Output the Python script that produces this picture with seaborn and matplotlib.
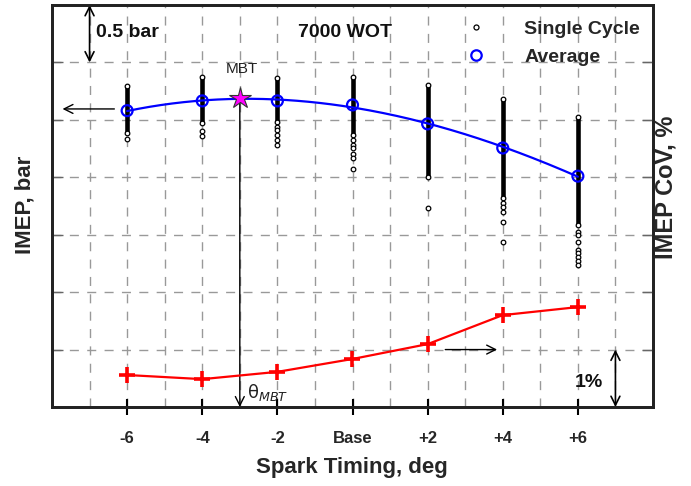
import numpy as np
import matplotlib
matplotlib.use("Agg")
import matplotlib.pyplot as plt
from matplotlib.lines import Line2D
from matplotlib.ticker import FixedLocator, NullFormatter
import seaborn as sns

# Spark timing sweep (deg relative to base calibration)
timing = [-6, -4, -2, 0, 2, 4, 6]
timing_labels = ["-6", "-4", "-2", "Base", "+2", "+4", "+6"]

# Average IMEP per timing point (bar)
imep_avg = [12.58, 12.665, 12.665, 12.63, 12.465, 12.255, 12.01]

# Single-cycle IMEP spread: continuous band of cycles per timing point (bar)
cycle_max = [12.795, 12.873, 12.864, 12.873, 12.804, 12.682, 12.525]
cycle_band_min = [12.386, 12.473, 12.481, 12.368, 12.003, 11.820, 11.585]

# Isolated low single cycles below each band (bar)
cycle_outliers = [
    [12.333],
    [12.403, 12.360],
    [12.438, 12.412, 12.368, 12.325, 12.281],
    [12.325, 12.281, 12.255, 12.203, 12.168, 12.072],
    [11.733],
    [11.776, 11.741, 11.698, 11.611, 11.437],
    [11.524, 11.498, 11.437, 11.367, 11.341, 11.306, 11.271, 11.236],
]

# Coefficient of variation of IMEP (%)
imep_cov = [0.557, 0.485, 0.612, 0.836, 1.095, 1.60, 1.74]

# Maximum brake torque timing
mbt_timing = -3
mbt_imep = 12.69

sns.set_theme(style="white")
plt.rcParams["font.family"] = ["Liberation Sans", "DejaVu Sans"]

W, H = 691, 486
fig = plt.figure(figsize=(W / 100, H / 100), dpi=100)
ax = fig.add_axes([52 / W, 1 - 407 / H, 601 / W, 402 / H])
ax.set_facecolor("white")
ax.set_xlim(-8, 8)
ax.set_ylim(10.0, 13.5)

ax2 = ax.twinx()
ax2.set_ylim(0, 7)

# grid and ticks
ax.xaxis.set_major_locator(FixedLocator(timing))
ax.xaxis.set_minor_locator(FixedLocator([-7, -5, -3, -1, 1, 3, 5, 7]))
ax.set_xticklabels(timing_labels)
ax.yaxis.set_major_locator(FixedLocator(np.arange(10.5, 13.01, 0.5)))
ax.yaxis.set_major_formatter(NullFormatter())
ax2.yaxis.set_major_locator(FixedLocator(range(1, 7)))
ax2.yaxis.set_major_formatter(NullFormatter())

dash = (0, (6.5, 6.0))
ax.grid(which="both", axis="x", color="#999999", lw=1, ls=dash)
ax.grid(which="major", axis="y", color="#999999", lw=1, ls=dash)
ax2.grid(False)
ax.set_axisbelow(True)

ax.tick_params(axis="x", which="major", bottom=True, direction="inout",
               length=12, width=1.5, color="black", pad=11, labelsize=12)
ax.tick_params(axis="x", which="minor", bottom=False, length=0)
ax.tick_params(axis="y", left=True, direction="in", length=8, width=1,
               color="#666666")
ax2.tick_params(axis="y", right=True, direction="in", length=8, width=1,
                color="#666666")
for lab in ax.get_xticklabels():
    lab.set_fontweight("bold")

for a in (ax, ax2):
    for sp in a.spines.values():
        sp.set_color("#222222")
        sp.set_linewidth(2)

# single-cycle bands and isolated cycles
ax.vlines(timing, cycle_band_min, cycle_max, colors="black", lw=3.3,
          capstyle="round", zorder=3)
sc_x, sc_y = [], []
for t, lo, hi, extra in zip(timing, cycle_band_min, cycle_max, cycle_outliers):
    sc_x += [t, t] + [t] * len(extra)
    sc_y += [lo, hi] + extra
sns.scatterplot(x=sc_x, y=sc_y, ax=ax, marker="o", s=11, facecolor="white",
                edgecolor="black", linewidth=0.9, zorder=4, legend=False)

# smooth trend through the averages
coef = np.polyfit(timing, imep_avg, 3)
xs = np.linspace(timing[0], timing[-1], 200)
sns.lineplot(x=xs, y=np.polyval(coef, xs), ax=ax, color="blue", lw=1.6,
             sort=False, estimator=None, zorder=5)
sns.scatterplot(x=timing, y=imep_avg, ax=ax, marker="o", s=62, facecolor="none",
                edgecolor="blue", linewidth=1.6, zorder=6, legend=False)

# MBT marker and timing arrow
ax.annotate("", xy=(mbt_timing, 10.0), xytext=(mbt_timing, mbt_imep),
            arrowprops=dict(arrowstyle="->", lw=1, color="black",
                            shrinkA=0, shrinkB=0, mutation_scale=16), zorder=4)
ax.plot([mbt_timing], [mbt_imep], marker="*", ms=16, mfc="#ff00ff",
        mec="#333333", mew=0.8, ls="none", zorder=8)
ax.text(mbt_timing + 0.05, 12.943, "MBT", fontsize=11, ha="center",
        va="center", color="#222222")
ax.text(-2.82, 10.13, r"$\mathrm{\theta}_{\mathit{MBT}}$", fontsize=13,
        ha="left", va="center", color="#222222")

# CoV on the secondary axis
sns.lineplot(x=timing, y=imep_cov, ax=ax2, color="red", lw=1.6, marker="+",
             markersize=11, markeredgewidth=2.6, markeredgecolor="red",
             sort=False, estimator=None, zorder=5)
ax2.set_ylabel("")
ax.set_ylabel("")
ax.set_xlabel("")

# scale annotations and axis pointers
ax.annotate("", xy=(-7, 13.5), xytext=(-7, 13.0),
            arrowprops=dict(arrowstyle="<->", lw=1.2, color="black",
                            shrinkA=0, shrinkB=0, mutation_scale=16))
ax.text(-6.82, 13.262, "0.5 bar", fontsize=14, fontweight="bold",
        ha="left", va="center", color="#111111")
ax.text(-0.19, 13.262, "7000 WOT", fontsize=14, fontweight="bold",
        ha="center", va="center", color="#111111")
ax.annotate("", xy=(-7.72, 12.595), xytext=(-6.34, 12.595),
            arrowprops=dict(arrowstyle="->", lw=1, color="black",
                            shrinkA=0, shrinkB=0, mutation_scale=16))
ax2.annotate("", xy=(3.85, 1.0), xytext=(2.47, 1.0),
             arrowprops=dict(arrowstyle="->", lw=1, color="black",
                             shrinkA=0, shrinkB=0, mutation_scale=16))
ax2.annotate("", xy=(7, 0), xytext=(7, 1),
             arrowprops=dict(arrowstyle="<->", lw=1.2, color="black",
                             shrinkA=0, shrinkB=0, mutation_scale=16))
ax2.text(6.29, 0.435, "1%", fontsize=14, fontweight="bold", ha="center",
         va="center", color="#111111")

# legend
handles = [
    Line2D([], [], ls="none", marker="o", ms=3.6, mfc="white", mec="black", mew=0.9),
    Line2D([], [], ls="none", marker="o", ms=7.5, mfc="none", mec="blue", mew=1.6),
]
ax2.legend(handles, ["Single Cycle", "Average"], loc="upper left",
           bbox_to_anchor=(466 / W, 1 - 20 / H), bbox_transform=fig.transFigure,
           frameon=False, prop={"weight": "bold", "size": 14}, handlelength=1.0,
           handletextpad=2.0, labelspacing=0.55, borderpad=0, borderaxespad=0)

# axis titles
fig.text(25 / W, 1 - 205 / H, "IMEP, bar", rotation=90, fontsize=16,
         fontweight="bold", ha="center", va="center")
fig.text(666 / W, 1 - 187 / H, "IMEP CoV, %", rotation=90, fontsize=17,
         fontweight="bold", ha="center", va="center")
fig.text(352 / W, 1 - 467 / H, "Spark Timing, deg", fontsize=16,
         fontweight="bold", ha="center", va="center")

fig.savefig("out.png", dpi=100, facecolor="white")
